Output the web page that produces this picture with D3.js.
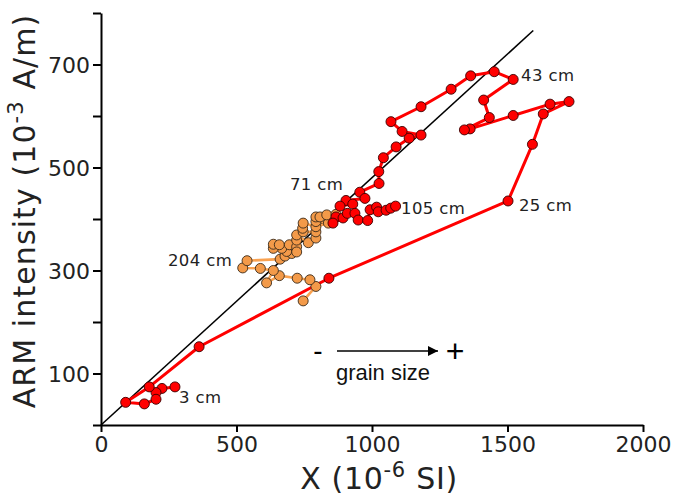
<!DOCTYPE html>
<html>
<head>
<meta charset="utf-8">
<script src="https://cdn.jsdelivr.net/npm/d3@7"></script>
<style>
  html, body { margin: 0; padding: 0; background: #fff; }
  svg { display: block; }
</style>
</head>
<body>
<div id="chart"></div>
<script>
// ---- Data ----
// Red series: X (10^-6 SI) and ARM (10^-3 A/m), ordered along the core (3 cm -> 105 cm)
const redX = [273, 225, 203, 203, 160, 91, 178, 362, 841, 1502,
  1592, 1632, 1727, 1657, 1521, 1362, 1341, 1433, 1412, 1521,
  1451, 1364, 1292, 1181, 1070, 1111, 1181, 1137, 1089, 1042,
  1025, 1026, 955, 974, 904, 929, 882, 867, 856, 893,
  909, 937, 949, 984, 993, 1017, 1023, 1052, 1069, 1087];
const redY = [74, 71, 63, 50, 41, 44, 74, 152, 285, 435,
  545, 604, 628, 623, 601, 575, 573, 597, 631, 671,
  686, 678, 652, 618, 589, 570, 563, 557, 540, 519,
  492, 469, 452, 440, 436, 429, 425, 404, 392, 402,
  411, 411, 398, 397, 418, 423, 414, 417, 421, 425];

// Orange series (deeper section, down to 204 cm)
const orangeX = [746, 793, 771, 724, 658, 611, 636, 588, 523, 539,
  661, 679, 704, 685, 667, 636, 636, 658, 695, 722,
  722, 722, 722, 765, 793, 793, 746, 744, 746, 793,
  839, 793, 793, 808, 833, 867];
const orangeY = [241, 269, 282, 285, 290, 276, 300, 304, 305, 319,
  322, 328, 333, 337, 343, 343, 351, 350, 350, 346,
  336, 359, 369, 354, 363, 375, 375, 382, 392, 385,
  392, 395, 404, 404, 408, 409];

// Reference line through the origin
const refLineX = [0, 1595];
const refLineY = [0, 766];

// Depth labels (text and the data location of their anchor)
const depthLabels = ["43 cm", "25 cm", "71 cm", "105 cm", "204 cm", "3 cm"];
const depthLabelX = [1550, 1542, 697, 1107, 247, 288];
const depthLabelY = [668, 416, 456, 410, 309, 43];

// Axis ticks
const xTicks = [0, 500, 1000, 1500, 2000];
const yTicks = [0, 100, 200, 300, 400, 500, 600, 700, 800];
const yTickLabels = [100, 300, 500, 700];

// ---- Layout ----
const W = 676, H = 495;
const mLeft = 101, mRight = 643, mTop = 13, mBottom = 425;

const svg = d3.select("#chart").append("svg")
  .attr("width", W).attr("height", H)
  .attr("viewBox", `0 0 ${W} ${H}`);

const x = d3.scaleLinear().domain([0, 2000]).range([mLeft, mRight]);
const y = d3.scaleLinear().domain([0, 800]).range([mBottom, mTop]);

const textFont = "'DejaVu Sans', Verdana, sans-serif";

// Axes
const xAxis = d3.axisBottom(x).tickValues(xTicks).tickSize(7).tickSizeOuter(0).tickPadding(4)
  .tickFormat(d3.format("d"));
const yAxis = d3.axisLeft(y).tickValues(yTicks).tickSize(8).tickSizeOuter(0).tickPadding(3)
  .tickFormat(d => yTickLabels.includes(d) ? String(d) : "");

const gx = svg.append("g").attr("transform", `translate(0,${mBottom})`).call(xAxis);
const gy = svg.append("g").attr("transform", `translate(${mLeft},0)`).call(yAxis);
[gx, gy].forEach(g => {
  g.selectAll("path.domain").attr("stroke", "#000").attr("stroke-width", 2);
  g.selectAll(".tick line").attr("stroke", "#000").attr("stroke-width", 2);
  g.selectAll(".tick text").attr("fill", "#222")
    .style("font-family", textFont).style("font-size", "22px");
});
gx.selectAll(".tick text").attr("dy", "0.72em");
gy.selectAll(".tick text").attr("dy", "0.36em");

// Axis titles
const xt = svg.append("text")
  .attr("x", 379).attr("y", 489)
  .attr("text-anchor", "middle").attr("fill", "#222")
  .style("font-family", textFont).style("font-size", "30px").style("letter-spacing", "0.7px");
xt.append("tspan").text("X (10");
xt.append("tspan").attr("dy", -12).style("font-size", "21px").text("-6");
xt.append("tspan").attr("dy", 12).text(" SI)");

const yt = svg.append("text")
  .attr("transform", `translate(35,211) rotate(-90)`)
  .attr("text-anchor", "middle").attr("fill", "#222")
  .style("font-family", textFont).style("font-size", "30px").style("letter-spacing", "1.1px");
yt.append("tspan").text("ARM intensity (10");
yt.append("tspan").attr("dy", -12).style("font-size", "21px").text("-3");
yt.append("tspan").attr("dy", 12).text(" A/m)");

// Reference line
svg.append("line")
  .attr("x1", x(refLineX[0])).attr("y1", y(refLineY[0]))
  .attr("x2", x(refLineX[1])).attr("y2", y(refLineY[1]))
  .attr("stroke", "#000").attr("stroke-width", 1.6);

const line = d3.line().x(d => x(d[0])).y(d => y(d[1]));
const redPts = redX.map((v, i) => [v, redY[i]]);
const orPts = orangeX.map((v, i) => [v, orangeY[i]]);

// Lines
svg.append("path").datum(redPts).attr("d", line)
  .attr("fill", "none").attr("stroke", "#ff0000").attr("stroke-width", 3)
  .attr("stroke-linejoin", "round");
svg.append("path").datum(orPts).attr("d", line)
  .attr("fill", "none").attr("stroke", "#f9a251").attr("stroke-width", 2.6)
  .attr("stroke-linejoin", "round");

// Points
svg.append("g").selectAll("circle").data(orPts).join("circle")
  .attr("cx", d => x(d[0])).attr("cy", d => y(d[1])).attr("r", 5)
  .attr("fill", "#f39a49").attr("stroke", "#3a2a1a").attr("stroke-width", 0.9);
svg.append("g").selectAll("circle").data(redPts).join("circle")
  .attr("cx", d => x(d[0])).attr("cy", d => y(d[1])).attr("r", 5)
  .attr("fill", "#ff0000").attr("stroke", "#3a0000").attr("stroke-width", 0.9);

// Depth labels
svg.append("g").selectAll("text").data(depthLabels).join("text")
  .attr("x", (d, i) => x(depthLabelX[i])).attr("y", (d, i) => y(depthLabelY[i]))
  .attr("fill", "#222").style("font-family", textFont).style("font-size", "16.5px")
  .style("letter-spacing", "0.4px")
  .text(d => d);

// Grain size annotation
const arrowFont = "'Liberation Sans', Arial, Helvetica, sans-serif";
svg.append("defs").append("marker")
  .attr("id", "arrowhead").attr("viewBox", "0 0 10 10")
  .attr("refX", 10).attr("refY", 5).attr("markerWidth", 14).attr("markerHeight", 10)
  .attr("markerUnits", "userSpaceOnUse").attr("orient", "auto")
  .append("path").attr("d", "M0,0 L10,5 L0,10 Z").attr("fill", "#000");
svg.append("line")
  .attr("x1", 337).attr("y1", 351).attr("x2", 438).attr("y2", 351)
  .attr("stroke", "#000").attr("stroke-width", 1.5)
  .attr("marker-end", "url(#arrowhead)");
svg.append("text").attr("x", 318).attr("y", 360).attr("text-anchor", "middle")
  .style("font-family", arrowFont).style("font-size", "28px").attr("fill", "#000").text("-");
svg.append("text").attr("x", 455).attr("y", 362).attr("text-anchor", "middle")
  .style("font-family", arrowFont).style("font-size", "32px").attr("fill", "#000").text("+");
svg.append("text").attr("x", 383).attr("y", 380).attr("text-anchor", "middle")
  .style("font-family", arrowFont).style("font-size", "22px").attr("fill", "#111").text("grain size");
</script>
</body>
</html>
